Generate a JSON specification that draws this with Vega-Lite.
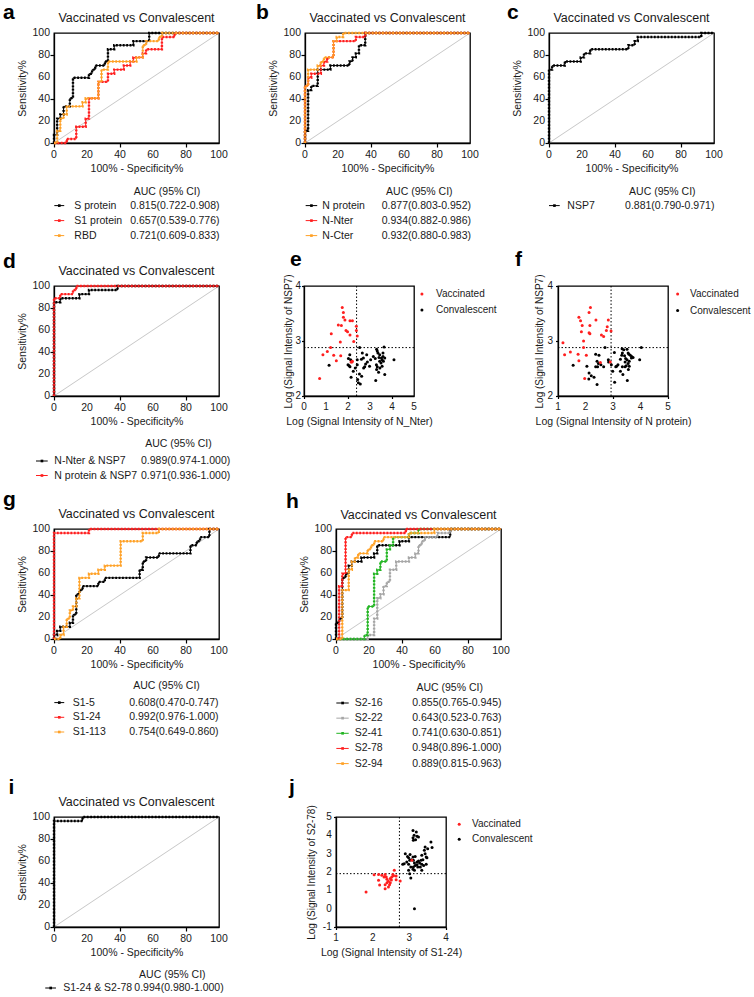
{
"$schema":"https://vega.github.io/schema/vega-lite/v6.json",
"padding":{"left":2,"top":1,"right":0,"bottom":0},
"config":{
 "font":"Liberation Sans",
 "view":{"stroke":"#000","strokeWidth":1.3},
 "axis":{"grid":false,"domainColor":"#000","domainWidth":1.3,"tickColor":"#000","tickWidth":1.2,"tickSize":4,"labelFontSize":10.5,"labelColor":"#1a1a1a","titleFontSize":10.5,"titleFontWeight":"normal","titleColor":"#1a1a1a"},
 "text":{"fontSize":10.5,"color":"#1a1a1a"}
},
"datasets":{
"tk":[
{"a":"r","v":0},{"a":"r","v":20},{"a":"r","v":40},{"a":"r","v":60},{"a":"r","v":80},{"a":"r","v":100},
{"a":"ex","v":0},{"a":"ex","v":1},{"a":"ex","v":2},{"a":"ex","v":3},{"a":"ex","v":4},{"a":"ex","v":5},
{"a":"sy","v":2},{"a":"sy","v":3},{"a":"sy","v":4},
{"a":"fx","v":1},{"a":"fx","v":2},{"a":"fx","v":3},{"a":"fx","v":4},{"a":"fx","v":5},
{"a":"jx","v":1},{"a":"jx","v":2},{"a":"jx","v":3},{"a":"jx","v":4},
{"a":"jy","v":-1},{"a":"jy","v":0},{"a":"jy","v":1},{"a":"jy","v":2},{"a":"jy","v":3},{"a":"jy","v":4},{"a":"jy","v":5}
],
"roc":[
{"c":"a1","x":0,"y":0},{"c":"a1","x":0,"y":7.4},{"c":"a1","x":1.9,"y":7.4},{"c":"a1","x":1.9,"y":22.2},{"c":"a1","x":3.8,"y":22.2},{"c":"a1","x":3.8,"y":25.9},{"c":"a1","x":5.8,"y":25.9},{"c":"a1","x":5.8,"y":33.3},{"c":"a1","x":9.6,"y":33.3},{"c":"a1","x":9.6,"y":40.7},{"c":"a1","x":11.5,"y":40.7},{"c":"a1","x":11.5,"y":59.3},{"c":"a1","x":21.2,"y":59.3},{"c":"a1","x":21.2,"y":63},{"c":"a1","x":23.1,"y":63},{"c":"a1","x":23.1,"y":66.7},{"c":"a1","x":25,"y":66.7},{"c":"a1","x":25,"y":70.4},{"c":"a1","x":30.8,"y":70.4},{"c":"a1","x":30.8,"y":74.1},{"c":"a1","x":32.7,"y":74.1},{"c":"a1","x":32.7,"y":85.2},{"c":"a1","x":36.5,"y":85.2},{"c":"a1","x":36.5,"y":88.9},{"c":"a1","x":48.1,"y":88.9},{"c":"a1","x":48.1,"y":92.6},{"c":"a1","x":57.7,"y":92.6},{"c":"a1","x":57.7,"y":100},{"c":"a1","x":100,"y":100},
{"c":"a2","x":0,"y":0},{"c":"a2","x":7.7,"y":0},{"c":"a2","x":7.7,"y":3.7},{"c":"a2","x":13.5,"y":3.7},{"c":"a2","x":13.5,"y":14.8},{"c":"a2","x":19.2,"y":14.8},{"c":"a2","x":19.2,"y":22.2},{"c":"a2","x":21.2,"y":22.2},{"c":"a2","x":21.2,"y":40.7},{"c":"a2","x":26.9,"y":40.7},{"c":"a2","x":26.9,"y":55.6},{"c":"a2","x":32.7,"y":55.6},{"c":"a2","x":32.7,"y":63},{"c":"a2","x":36.5,"y":63},{"c":"a2","x":36.5,"y":66.7},{"c":"a2","x":42.3,"y":66.7},{"c":"a2","x":42.3,"y":70.4},{"c":"a2","x":46.2,"y":70.4},{"c":"a2","x":46.2,"y":74.1},{"c":"a2","x":48.1,"y":74.1},{"c":"a2","x":48.1,"y":77.8},{"c":"a2","x":53.8,"y":77.8},{"c":"a2","x":53.8,"y":81.5},{"c":"a2","x":55.8,"y":81.5},{"c":"a2","x":55.8,"y":85.2},{"c":"a2","x":65.4,"y":85.2},{"c":"a2","x":65.4,"y":96.3},{"c":"a2","x":73.1,"y":96.3},{"c":"a2","x":73.1,"y":100},{"c":"a2","x":100,"y":100},
{"c":"a3","x":0,"y":0},{"c":"a3","x":1.9,"y":0},{"c":"a3","x":1.9,"y":11.1},{"c":"a3","x":3.8,"y":11.1},{"c":"a3","x":3.8,"y":22.2},{"c":"a3","x":5.8,"y":22.2},{"c":"a3","x":5.8,"y":25.9},{"c":"a3","x":7.7,"y":25.9},{"c":"a3","x":7.7,"y":33.3},{"c":"a3","x":17.3,"y":33.3},{"c":"a3","x":17.3,"y":37},{"c":"a3","x":19.2,"y":37},{"c":"a3","x":19.2,"y":40.7},{"c":"a3","x":26.9,"y":40.7},{"c":"a3","x":26.9,"y":55.6},{"c":"a3","x":28.8,"y":55.6},{"c":"a3","x":28.8,"y":66.7},{"c":"a3","x":32.7,"y":66.7},{"c":"a3","x":32.7,"y":74.1},{"c":"a3","x":50,"y":74.1},{"c":"a3","x":50,"y":77.8},{"c":"a3","x":53.8,"y":77.8},{"c":"a3","x":53.8,"y":88.9},{"c":"a3","x":55.8,"y":88.9},{"c":"a3","x":55.8,"y":92.6},{"c":"a3","x":63.5,"y":92.6},{"c":"a3","x":63.5,"y":96.3},{"c":"a3","x":65.4,"y":96.3},{"c":"a3","x":65.4,"y":100},{"c":"a3","x":100,"y":100},
{"c":"b1","x":0,"y":0},{"c":"b1","x":0,"y":11.1},{"c":"b1","x":1.9,"y":11.1},{"c":"b1","x":1.9,"y":48.1},{"c":"b1","x":3.8,"y":48.1},{"c":"b1","x":3.8,"y":51.9},{"c":"b1","x":7.7,"y":51.9},{"c":"b1","x":7.7,"y":66.7},{"c":"b1","x":15.4,"y":66.7},{"c":"b1","x":15.4,"y":70.4},{"c":"b1","x":26.9,"y":70.4},{"c":"b1","x":26.9,"y":74.1},{"c":"b1","x":28.8,"y":74.1},{"c":"b1","x":28.8,"y":77.8},{"c":"b1","x":30.8,"y":77.8},{"c":"b1","x":30.8,"y":81.5},{"c":"b1","x":32.7,"y":81.5},{"c":"b1","x":32.7,"y":88.9},{"c":"b1","x":36.5,"y":88.9},{"c":"b1","x":36.5,"y":100},{"c":"b1","x":100,"y":100},
{"c":"b2","x":0,"y":0},{"c":"b2","x":0,"y":51.9},{"c":"b2","x":1.9,"y":51.9},{"c":"b2","x":1.9,"y":59.3},{"c":"b2","x":3.8,"y":59.3},{"c":"b2","x":3.8,"y":63},{"c":"b2","x":9.6,"y":63},{"c":"b2","x":9.6,"y":70.4},{"c":"b2","x":11.5,"y":70.4},{"c":"b2","x":11.5,"y":74.1},{"c":"b2","x":13.5,"y":74.1},{"c":"b2","x":13.5,"y":77.8},{"c":"b2","x":17.3,"y":77.8},{"c":"b2","x":17.3,"y":92.6},{"c":"b2","x":30.8,"y":92.6},{"c":"b2","x":30.8,"y":96.3},{"c":"b2","x":36.5,"y":96.3},{"c":"b2","x":36.5,"y":100},{"c":"b2","x":100,"y":100},
{"c":"b3","x":0,"y":0},{"c":"b3","x":0,"y":51.9},{"c":"b3","x":1.9,"y":51.9},{"c":"b3","x":1.9,"y":66.7},{"c":"b3","x":7.7,"y":66.7},{"c":"b3","x":7.7,"y":70.4},{"c":"b3","x":9.6,"y":70.4},{"c":"b3","x":9.6,"y":74.1},{"c":"b3","x":11.5,"y":74.1},{"c":"b3","x":11.5,"y":77.8},{"c":"b3","x":17.3,"y":77.8},{"c":"b3","x":17.3,"y":92.6},{"c":"b3","x":19.2,"y":92.6},{"c":"b3","x":19.2,"y":96.3},{"c":"b3","x":23.1,"y":96.3},{"c":"b3","x":23.1,"y":100},{"c":"b3","x":100,"y":100},
{"c":"c1","x":0,"y":0},{"c":"c1","x":0,"y":66.7},{"c":"c1","x":1.9,"y":66.7},{"c":"c1","x":1.9,"y":70.4},{"c":"c1","x":9.6,"y":70.4},{"c":"c1","x":9.6,"y":74.1},{"c":"c1","x":19.2,"y":74.1},{"c":"c1","x":19.2,"y":77.8},{"c":"c1","x":21.2,"y":77.8},{"c":"c1","x":21.2,"y":81.5},{"c":"c1","x":25,"y":81.5},{"c":"c1","x":25,"y":85.2},{"c":"c1","x":48.1,"y":85.2},{"c":"c1","x":48.1,"y":88.9},{"c":"c1","x":51.9,"y":88.9},{"c":"c1","x":51.9,"y":92.6},{"c":"c1","x":53.8,"y":92.6},{"c":"c1","x":53.8,"y":96.3},{"c":"c1","x":92.3,"y":96.3},{"c":"c1","x":92.3,"y":100},{"c":"c1","x":100,"y":100},
{"c":"d1","x":0,"y":0},{"c":"d1","x":0,"y":85.2},{"c":"d1","x":3.8,"y":85.2},{"c":"d1","x":3.8,"y":88.9},{"c":"d1","x":15.4,"y":88.9},{"c":"d1","x":15.4,"y":92.6},{"c":"d1","x":21.2,"y":92.6},{"c":"d1","x":21.2,"y":96.3},{"c":"d1","x":38.5,"y":96.3},{"c":"d1","x":38.5,"y":100},{"c":"d1","x":100,"y":100},
{"c":"d2","x":0,"y":0},{"c":"d2","x":0,"y":88.9},{"c":"d2","x":3.8,"y":88.9},{"c":"d2","x":3.8,"y":92.6},{"c":"d2","x":11.5,"y":92.6},{"c":"d2","x":11.5,"y":96.3},{"c":"d2","x":13.5,"y":96.3},{"c":"d2","x":13.5,"y":100},{"c":"d2","x":100,"y":100},
{"c":"g1","x":0,"y":0},{"c":"g1","x":0,"y":3.7},{"c":"g1","x":1.9,"y":3.7},{"c":"g1","x":1.9,"y":7.4},{"c":"g1","x":3.8,"y":7.4},{"c":"g1","x":3.8,"y":11.1},{"c":"g1","x":9.6,"y":11.1},{"c":"g1","x":9.6,"y":14.8},{"c":"g1","x":11.5,"y":14.8},{"c":"g1","x":11.5,"y":22.2},{"c":"g1","x":13.5,"y":22.2},{"c":"g1","x":13.5,"y":40.7},{"c":"g1","x":15.4,"y":40.7},{"c":"g1","x":15.4,"y":44.4},{"c":"g1","x":17.3,"y":44.4},{"c":"g1","x":17.3,"y":48.1},{"c":"g1","x":26.9,"y":48.1},{"c":"g1","x":26.9,"y":51.9},{"c":"g1","x":30.8,"y":51.9},{"c":"g1","x":30.8,"y":55.6},{"c":"g1","x":51.9,"y":55.6},{"c":"g1","x":51.9,"y":63},{"c":"g1","x":53.8,"y":63},{"c":"g1","x":53.8,"y":70.4},{"c":"g1","x":55.8,"y":70.4},{"c":"g1","x":55.8,"y":74.1},{"c":"g1","x":63.5,"y":74.1},{"c":"g1","x":63.5,"y":77.8},{"c":"g1","x":82.7,"y":77.8},{"c":"g1","x":82.7,"y":85.2},{"c":"g1","x":86.5,"y":85.2},{"c":"g1","x":86.5,"y":88.9},{"c":"g1","x":88.5,"y":88.9},{"c":"g1","x":88.5,"y":92.6},{"c":"g1","x":94.2,"y":92.6},{"c":"g1","x":94.2,"y":100},{"c":"g1","x":100,"y":100},
{"c":"g2","x":0,"y":0},{"c":"g2","x":0,"y":96.3},{"c":"g2","x":21.2,"y":96.3},{"c":"g2","x":21.2,"y":100},{"c":"g2","x":100,"y":100},
{"c":"g3","x":0,"y":0},{"c":"g3","x":3.8,"y":0},{"c":"g3","x":3.8,"y":3.7},{"c":"g3","x":5.8,"y":3.7},{"c":"g3","x":5.8,"y":11.1},{"c":"g3","x":7.7,"y":11.1},{"c":"g3","x":7.7,"y":18.5},{"c":"g3","x":9.6,"y":18.5},{"c":"g3","x":9.6,"y":25.9},{"c":"g3","x":11.5,"y":25.9},{"c":"g3","x":11.5,"y":29.6},{"c":"g3","x":13.5,"y":29.6},{"c":"g3","x":13.5,"y":37},{"c":"g3","x":15.4,"y":37},{"c":"g3","x":15.4,"y":55.6},{"c":"g3","x":21.2,"y":55.6},{"c":"g3","x":21.2,"y":59.3},{"c":"g3","x":26.9,"y":59.3},{"c":"g3","x":26.9,"y":63},{"c":"g3","x":30.8,"y":63},{"c":"g3","x":30.8,"y":66.7},{"c":"g3","x":40.4,"y":66.7},{"c":"g3","x":40.4,"y":88.9},{"c":"g3","x":53.8,"y":88.9},{"c":"g3","x":53.8,"y":96.3},{"c":"g3","x":63.5,"y":96.3},{"c":"g3","x":63.5,"y":100},{"c":"g3","x":100,"y":100},
{"c":"h1","x":0,"y":0},{"c":"h1","x":0,"y":14.8},{"c":"h1","x":1.9,"y":14.8},{"c":"h1","x":1.9,"y":18.5},{"c":"h1","x":3.8,"y":18.5},{"c":"h1","x":3.8,"y":55.6},{"c":"h1","x":5.8,"y":55.6},{"c":"h1","x":5.8,"y":59.3},{"c":"h1","x":7.7,"y":59.3},{"c":"h1","x":7.7,"y":66.7},{"c":"h1","x":9.6,"y":66.7},{"c":"h1","x":9.6,"y":70.4},{"c":"h1","x":15.4,"y":70.4},{"c":"h1","x":15.4,"y":74.1},{"c":"h1","x":23.1,"y":74.1},{"c":"h1","x":23.1,"y":77.8},{"c":"h1","x":25,"y":77.8},{"c":"h1","x":25,"y":85.2},{"c":"h1","x":38.5,"y":85.2},{"c":"h1","x":38.5,"y":88.9},{"c":"h1","x":44.2,"y":88.9},{"c":"h1","x":44.2,"y":92.6},{"c":"h1","x":69.2,"y":92.6},{"c":"h1","x":69.2,"y":100},{"c":"h1","x":100,"y":100},
{"c":"h2","x":0,"y":0},{"c":"h2","x":19.2,"y":0},{"c":"h2","x":19.2,"y":3.7},{"c":"h2","x":23.1,"y":3.7},{"c":"h2","x":23.1,"y":18.5},{"c":"h2","x":25,"y":18.5},{"c":"h2","x":25,"y":37},{"c":"h2","x":26.9,"y":37},{"c":"h2","x":26.9,"y":40.7},{"c":"h2","x":28.8,"y":40.7},{"c":"h2","x":28.8,"y":48.1},{"c":"h2","x":30.8,"y":48.1},{"c":"h2","x":30.8,"y":51.9},{"c":"h2","x":32.7,"y":51.9},{"c":"h2","x":32.7,"y":63},{"c":"h2","x":36.5,"y":63},{"c":"h2","x":36.5,"y":70.4},{"c":"h2","x":44.2,"y":70.4},{"c":"h2","x":44.2,"y":74.1},{"c":"h2","x":48.1,"y":74.1},{"c":"h2","x":48.1,"y":77.8},{"c":"h2","x":50,"y":77.8},{"c":"h2","x":50,"y":85.2},{"c":"h2","x":51.9,"y":85.2},{"c":"h2","x":51.9,"y":88.9},{"c":"h2","x":53.8,"y":88.9},{"c":"h2","x":53.8,"y":92.6},{"c":"h2","x":61.5,"y":92.6},{"c":"h2","x":61.5,"y":96.3},{"c":"h2","x":69.2,"y":96.3},{"c":"h2","x":69.2,"y":100},{"c":"h2","x":100,"y":100},
{"c":"h3","x":0,"y":0},{"c":"h3","x":17.3,"y":0},{"c":"h3","x":17.3,"y":3.7},{"c":"h3","x":19.2,"y":3.7},{"c":"h3","x":19.2,"y":29.6},{"c":"h3","x":23.1,"y":29.6},{"c":"h3","x":23.1,"y":59.3},{"c":"h3","x":25,"y":59.3},{"c":"h3","x":25,"y":63},{"c":"h3","x":26.9,"y":63},{"c":"h3","x":26.9,"y":70.4},{"c":"h3","x":30.8,"y":70.4},{"c":"h3","x":30.8,"y":81.5},{"c":"h3","x":32.7,"y":81.5},{"c":"h3","x":32.7,"y":85.2},{"c":"h3","x":34.6,"y":85.2},{"c":"h3","x":34.6,"y":92.6},{"c":"h3","x":44.2,"y":92.6},{"c":"h3","x":44.2,"y":96.3},{"c":"h3","x":50,"y":96.3},{"c":"h3","x":50,"y":100},{"c":"h3","x":100,"y":100},
{"c":"h4","x":0,"y":0},{"c":"h4","x":1.9,"y":0},{"c":"h4","x":1.9,"y":48.1},{"c":"h4","x":3.8,"y":48.1},{"c":"h4","x":3.8,"y":59.3},{"c":"h4","x":5.8,"y":59.3},{"c":"h4","x":5.8,"y":92.6},{"c":"h4","x":9.6,"y":92.6},{"c":"h4","x":9.6,"y":96.3},{"c":"h4","x":42.3,"y":96.3},{"c":"h4","x":42.3,"y":100},{"c":"h4","x":100,"y":100},
{"c":"h5","x":0,"y":0},{"c":"h5","x":3.8,"y":0},{"c":"h5","x":3.8,"y":44.4},{"c":"h5","x":7.7,"y":44.4},{"c":"h5","x":7.7,"y":63},{"c":"h5","x":9.6,"y":63},{"c":"h5","x":9.6,"y":70.4},{"c":"h5","x":11.5,"y":70.4},{"c":"h5","x":11.5,"y":74.1},{"c":"h5","x":13.5,"y":74.1},{"c":"h5","x":13.5,"y":77.8},{"c":"h5","x":19.2,"y":77.8},{"c":"h5","x":19.2,"y":81.5},{"c":"h5","x":21.2,"y":81.5},{"c":"h5","x":21.2,"y":85.2},{"c":"h5","x":23.1,"y":85.2},{"c":"h5","x":23.1,"y":88.9},{"c":"h5","x":28.8,"y":88.9},{"c":"h5","x":28.8,"y":92.6},{"c":"h5","x":44.2,"y":92.6},{"c":"h5","x":44.2,"y":96.3},{"c":"h5","x":59.6,"y":96.3},{"c":"h5","x":59.6,"y":100},{"c":"h5","x":100,"y":100},
{"c":"i1","x":0,"y":0},{"c":"i1","x":0,"y":96.3},{"c":"i1","x":17.3,"y":96.3},{"c":"i1","x":17.3,"y":100},{"c":"i1","x":100,"y":100}
],
"sc":[
{"p":"e","g":"C","x":1.14,"y":2.56},{"p":"e","g":"C","x":2.08,"y":2.75},{"p":"e","g":"C","x":2.02,"y":2.68},{"p":"e","g":"C","x":2.12,"y":2.66},{"p":"e","g":"C","x":2.0,"y":2.57},{"p":"e","g":"C","x":2.05,"y":2.55},{"p":"e","g":"C","x":2.09,"y":2.53},{"p":"e","g":"C","x":2.14,"y":2.34},{"p":"e","g":"C","x":2.42,"y":2.66},{"p":"e","g":"C","x":2.42,"y":2.57},{"p":"e","g":"C","x":2.44,"y":2.30},{"p":"e","g":"C","x":2.47,"y":2.24},{"p":"e","g":"C","x":2.56,"y":2.22},{"p":"e","g":"C","x":2.53,"y":2.88},{"p":"e","g":"C","x":2.61,"y":2.67},{"p":"e","g":"C","x":2.65,"y":2.78},{"p":"e","g":"C","x":2.70,"y":2.69},{"p":"e","g":"C","x":2.71,"y":2.51},{"p":"e","g":"C","x":2.85,"y":2.75},{"p":"e","g":"C","x":2.80,"y":2.58},{"p":"e","g":"C","x":2.76,"y":2.53},{"p":"e","g":"C","x":2.52,"y":2.40},{"p":"e","g":"C","x":2.62,"y":2.36},{"p":"e","g":"C","x":3.03,"y":2.66},{"p":"e","g":"C","x":2.98,"y":2.54},{"p":"e","g":"C","x":3.26,"y":2.28},{"p":"e","g":"C","x":3.30,"y":2.85},{"p":"e","g":"C","x":3.33,"y":2.82},{"p":"e","g":"C","x":3.36,"y":2.78},{"p":"e","g":"C","x":3.44,"y":2.75},{"p":"e","g":"C","x":3.41,"y":2.70},{"p":"e","g":"C","x":3.52,"y":2.69},{"p":"e","g":"C","x":3.55,"y":2.66},{"p":"e","g":"C","x":3.59,"y":2.72},{"p":"e","g":"C","x":3.64,"y":2.89},{"p":"e","g":"C","x":3.67,"y":2.69},{"p":"e","g":"C","x":3.61,"y":2.63},{"p":"e","g":"C","x":3.50,"y":2.60},{"p":"e","g":"C","x":3.29,"y":2.57},{"p":"e","g":"C","x":3.33,"y":2.53},{"p":"e","g":"C","x":3.55,"y":2.54},{"p":"e","g":"C","x":3.39,"y":2.43},{"p":"e","g":"C","x":3.67,"y":2.39},{"p":"e","g":"C","x":4.09,"y":2.66},{"p":"e","g":"C","x":3.44,"y":2.63},{"p":"e","g":"C","x":3.24,"y":2.68},{"p":"e","g":"C","x":3.15,"y":2.72},{"p":"e","g":"C","x":2.88,"y":2.62},{"p":"e","g":"C","x":2.33,"y":2.51},{"p":"e","g":"C","x":2.24,"y":2.45},{"p":"e","g":"C","x":3.59,"y":2.78},{"p":"e","g":"C","x":3.30,"y":2.48},{"p":"e","g":"C","x":3.45,"y":2.51},
{"p":"e","g":"V","x":1.74,"y":3.61},{"p":"e","g":"V","x":1.79,"y":3.52},{"p":"e","g":"V","x":1.79,"y":3.43},{"p":"e","g":"V","x":1.86,"y":3.38},{"p":"e","g":"V","x":1.56,"y":3.29},{"p":"e","g":"V","x":1.70,"y":3.28},{"p":"e","g":"V","x":2.09,"y":3.37},{"p":"e","g":"V","x":2.20,"y":3.37},{"p":"e","g":"V","x":2.38,"y":3.27},{"p":"e","g":"V","x":2.38,"y":3.19},{"p":"e","g":"V","x":1.91,"y":3.19},{"p":"e","g":"V","x":1.98,"y":3.17},{"p":"e","g":"V","x":2.09,"y":3.11},{"p":"e","g":"V","x":1.24,"y":3.13},{"p":"e","g":"V","x":2.42,"y":3.09},{"p":"e","g":"V","x":1.65,"y":2.98},{"p":"e","g":"V","x":2.26,"y":2.99},{"p":"e","g":"V","x":0.86,"y":2.75},{"p":"e","g":"V","x":1.06,"y":2.81},{"p":"e","g":"V","x":1.21,"y":2.88},{"p":"e","g":"V","x":1.35,"y":2.74},{"p":"e","g":"V","x":1.47,"y":2.64},{"p":"e","g":"V","x":1.67,"y":2.73},{"p":"e","g":"V","x":0.71,"y":2.32},{"p":"e","g":"V","x":2.14,"y":2.62},{"p":"e","g":"V","x":2.18,"y":2.62},{"p":"e","g":"V","x":2.20,"y":2.63},
{"p":"f","g":"C","x":1.55,"y":2.56},{"p":"f","g":"C","x":2.05,"y":2.54},{"p":"f","g":"C","x":2.13,"y":2.42},{"p":"f","g":"C","x":2.12,"y":2.31},{"p":"f","g":"C","x":2.21,"y":2.37},{"p":"f","g":"C","x":2.31,"y":2.34},{"p":"f","g":"C","x":2.42,"y":2.21},{"p":"f","g":"C","x":2.37,"y":2.76},{"p":"f","g":"C","x":2.49,"y":2.74},{"p":"f","g":"C","x":2.42,"y":2.63},{"p":"f","g":"C","x":2.47,"y":2.59},{"p":"f","g":"C","x":2.37,"y":2.53},{"p":"f","g":"C","x":2.44,"y":2.53},{"p":"f","g":"C","x":2.56,"y":2.57},{"p":"f","g":"C","x":2.66,"y":2.53},{"p":"f","g":"C","x":2.71,"y":2.88},{"p":"f","g":"C","x":2.83,"y":2.66},{"p":"f","g":"C","x":2.84,"y":2.62},{"p":"f","g":"C","x":2.94,"y":2.57},{"p":"f","g":"C","x":3.05,"y":2.79},{"p":"f","g":"C","x":3.06,"y":2.25},{"p":"f","g":"C","x":3.10,"y":2.53},{"p":"f","g":"C","x":3.18,"y":2.57},{"p":"f","g":"C","x":3.27,"y":2.67},{"p":"f","g":"C","x":3.33,"y":2.86},{"p":"f","g":"C","x":3.39,"y":2.84},{"p":"f","g":"C","x":3.34,"y":2.78},{"p":"f","g":"C","x":3.42,"y":2.73},{"p":"f","g":"C","x":3.51,"y":2.85},{"p":"f","g":"C","x":3.55,"y":2.78},{"p":"f","g":"C","x":3.46,"y":2.68},{"p":"f","g":"C","x":3.58,"y":2.76},{"p":"f","g":"C","x":3.63,"y":2.74},{"p":"f","g":"C","x":3.68,"y":2.72},{"p":"f","g":"C","x":3.51,"y":2.66},{"p":"f","g":"C","x":3.59,"y":2.63},{"p":"f","g":"C","x":3.44,"y":2.62},{"p":"f","g":"C","x":3.55,"y":2.59},{"p":"f","g":"C","x":3.48,"y":2.55},{"p":"f","g":"C","x":3.59,"y":2.54},{"p":"f","g":"C","x":3.34,"y":2.53},{"p":"f","g":"C","x":3.27,"y":2.45},{"p":"f","g":"C","x":3.36,"y":2.39},{"p":"f","g":"C","x":3.52,"y":2.28},{"p":"f","g":"C","x":3.73,"y":2.70},{"p":"f","g":"C","x":3.97,"y":2.66},{"p":"f","g":"C","x":4.03,"y":2.88},{"p":"f","g":"C","x":3.44,"y":2.53},{"p":"f","g":"C","x":3.13,"y":2.54},{"p":"f","g":"C","x":2.99,"y":2.45},{"p":"f","g":"C","x":3.67,"y":2.69},{"p":"f","g":"C","x":3.56,"y":2.48},{"p":"f","g":"C","x":3.32,"y":2.74},
{"p":"f","g":"V","x":2.18,"y":3.61},{"p":"f","g":"V","x":2.13,"y":3.52},{"p":"f","g":"V","x":1.76,"y":3.43},{"p":"f","g":"V","x":1.82,"y":3.37},{"p":"f","g":"V","x":1.88,"y":3.28},{"p":"f","g":"V","x":2.16,"y":3.28},{"p":"f","g":"V","x":2.38,"y":3.38},{"p":"f","g":"V","x":2.83,"y":3.38},{"p":"f","g":"V","x":2.79,"y":3.26},{"p":"f","g":"V","x":2.76,"y":3.19},{"p":"f","g":"V","x":2.93,"y":3.18},{"p":"f","g":"V","x":1.85,"y":3.17},{"p":"f","g":"V","x":2.13,"y":3.15},{"p":"f","g":"V","x":2.16,"y":3.13},{"p":"f","g":"V","x":2.58,"y":3.11},{"p":"f","g":"V","x":2.66,"y":3.08},{"p":"f","g":"V","x":1.93,"y":3.00},{"p":"f","g":"V","x":1.18,"y":2.97},{"p":"f","g":"V","x":1.93,"y":2.88},{"p":"f","g":"V","x":1.45,"y":2.80},{"p":"f","g":"V","x":1.24,"y":2.75},{"p":"f","g":"V","x":1.73,"y":2.76},{"p":"f","g":"V","x":2.03,"y":2.74},{"p":"f","g":"V","x":1.76,"y":2.64},{"p":"f","g":"V","x":2.54,"y":2.61},{"p":"f","g":"V","x":2.90,"y":2.62},{"p":"f","g":"V","x":1.97,"y":2.32},
{"p":"j","g":"C","x":2.86,"y":2.45},{"p":"j","g":"C","x":2.82,"y":2.42},{"p":"j","g":"C","x":2.89,"y":3.0},{"p":"j","g":"C","x":2.95,"y":2.85},{"p":"j","g":"C","x":2.98,"y":2.42},{"p":"j","g":"C","x":3.01,"y":2.64},{"p":"j","g":"C","x":3.02,"y":2.96},{"p":"j","g":"C","x":3.04,"y":2.27},{"p":"j","g":"C","x":2.98,"y":2.09},{"p":"j","g":"C","x":3.01,"y":1.91},{"p":"j","g":"C","x":3.04,"y":1.67},{"p":"j","g":"C","x":3.10,"y":4.27},{"p":"j","g":"C","x":3.13,"y":4.0},{"p":"j","g":"C","x":3.10,"y":3.87},{"p":"j","g":"C","x":3.11,"y":3.73},{"p":"j","g":"C","x":3.19,"y":4.18},{"p":"j","g":"C","x":3.17,"y":3.76},{"p":"j","g":"C","x":3.21,"y":3.95},{"p":"j","g":"C","x":3.25,"y":3.91},{"p":"j","g":"C","x":3.10,"y":2.82},{"p":"j","g":"C","x":3.16,"y":2.85},{"p":"j","g":"C","x":3.11,"y":2.64},{"p":"j","g":"C","x":3.14,"y":2.49},{"p":"j","g":"C","x":3.16,"y":2.36},{"p":"j","g":"C","x":3.11,"y":2.27},{"p":"j","g":"C","x":3.10,"y":2.15},{"p":"j","g":"C","x":3.14,"y":2.09},{"p":"j","g":"C","x":3.21,"y":2.55},{"p":"j","g":"C","x":3.21,"y":2.40},{"p":"j","g":"C","x":3.25,"y":2.60},{"p":"j","g":"C","x":3.28,"y":2.49},{"p":"j","g":"C","x":3.32,"y":2.64},{"p":"j","g":"C","x":3.34,"y":2.91},{"p":"j","g":"C","x":3.34,"y":2.42},{"p":"j","g":"C","x":3.34,"y":2.09},{"p":"j","g":"C","x":3.37,"y":2.67},{"p":"j","g":"C","x":3.39,"y":2.36},{"p":"j","g":"C","x":3.41,"y":3.18},{"p":"j","g":"C","x":3.43,"y":3.36},{"p":"j","g":"C","x":3.43,"y":3.0},{"p":"j","g":"C","x":3.46,"y":2.82},{"p":"j","g":"C","x":3.46,"y":2.42},{"p":"j","g":"C","x":3.50,"y":3.27},{"p":"j","g":"C","x":3.48,"y":2.78},{"p":"j","g":"C","x":3.59,"y":3.64},{"p":"j","g":"C","x":3.62,"y":3.33},{"p":"j","g":"C","x":3.14,"y":0.0},{"p":"j","g":"C","x":2.98,"y":2.78},{"p":"j","g":"C","x":2.93,"y":2.55},{"p":"j","g":"C","x":3.23,"y":2.27},{"p":"j","g":"C","x":3.30,"y":2.27},{"p":"j","g":"C","x":3.05,"y":2.67},
{"p":"j","g":"V","x":1.82,"y":0.91},{"p":"j","g":"V","x":2.04,"y":1.85},{"p":"j","g":"V","x":2.16,"y":1.87},{"p":"j","g":"V","x":2.19,"y":1.29},{"p":"j","g":"V","x":2.25,"y":1.82},{"p":"j","g":"V","x":2.31,"y":1.73},{"p":"j","g":"V","x":2.34,"y":1.87},{"p":"j","g":"V","x":2.34,"y":1.31},{"p":"j","g":"V","x":2.37,"y":1.73},{"p":"j","g":"V","x":2.39,"y":1.60},{"p":"j","g":"V","x":2.34,"y":1.09},{"p":"j","g":"V","x":2.43,"y":1.18},{"p":"j","g":"V","x":2.39,"y":1.42},{"p":"j","g":"V","x":2.43,"y":1.49},{"p":"j","g":"V","x":2.48,"y":1.64},{"p":"j","g":"V","x":2.48,"y":1.42},{"p":"j","g":"V","x":2.46,"y":1.31},{"p":"j","g":"V","x":2.52,"y":1.73},{"p":"j","g":"V","x":2.55,"y":1.87},{"p":"j","g":"V","x":2.59,"y":2.09},{"p":"j","g":"V","x":2.57,"y":1.80},{"p":"j","g":"V","x":2.64,"y":1.78},{"p":"j","g":"V","x":2.64,"y":1.58},{"p":"j","g":"V","x":2.75,"y":1.51},{"p":"j","g":"V","x":2.51,"y":1.56},{"p":"j","g":"V","x":2.16,"y":1.55},{"p":"j","g":"V","x":3.07,"y":2.64}
],
"leg":[
{"p":"a","c":"a1","s":"S protein","auc":"0.815(0.722-0.908)","i":0},
{"p":"a","c":"a2","s":"S1 protein","auc":"0.657(0.539-0.776)","i":1},
{"p":"a","c":"a3","s":"RBD","auc":"0.721(0.609-0.833)","i":2},
{"p":"b","c":"b1","s":"N protein","auc":"0.877(0.803-0.952)","i":0},
{"p":"b","c":"b2","s":"N-Nter","auc":"0.934(0.882-0.986)","i":1},
{"p":"b","c":"b3","s":"N-Cter","auc":"0.932(0.880-0.983)","i":2},
{"p":"c","c":"c1","s":"NSP7","auc":"0.881(0.790-0.971)","i":0},
{"p":"d","c":"d1","s":"N-Nter & NSP7","auc":"0.989(0.974-1.000)","i":0},
{"p":"d","c":"d2","s":"N protein & NSP7","auc":"0.971(0.936-1.000)","i":1},
{"p":"g","c":"g1","s":"S1-5","auc":"0.608(0.470-0.747)","i":0},
{"p":"g","c":"g2","s":"S1-24","auc":"0.992(0.976-1.000)","i":1},
{"p":"g","c":"g3","s":"S1-113","auc":"0.754(0.649-0.860)","i":2},
{"p":"h","c":"h1","s":"S2-16","auc":"0.855(0.765-0.945)","i":0},
{"p":"h","c":"h2","s":"S2-22","auc":"0.643(0.523-0.763)","i":1},
{"p":"h","c":"h3","s":"S2-41","auc":"0.741(0.630-0.851)","i":2},
{"p":"h","c":"h4","s":"S2-78","auc":"0.948(0.896-1.000)","i":3},
{"p":"h","c":"h5","s":"S2-94","auc":"0.889(0.815-0.963)","i":4},
{"p":"i","c":"i1","s":"S1-24 & S2-78","auc":"0.994(0.980-1.000)","i":0},
{"p":"e","g":"V","s":"Vaccinated","i":0},{"p":"e","g":"C","s":"Convalescent","i":1},
{"p":"f","g":"V","s":"Vaccinated","i":0},{"p":"f","g":"C","s":"Convalescent","i":1},
{"p":"j","g":"V","s":"Vaccinated","i":0},{"p":"j","g":"C","s":"Convalescent","i":1}
]
},
"resolve":{"scale":{"color":"independent"}},
"spacing":6,
"align":"none",
"vconcat":[
{"hconcat":[
{"width":165,"height":110,"resolve":{"scale":{"y":"independent"}},"layer":[
 {"layer":[
  {"data":{"values":[{}]},"mark":{"type":"rule","color":"#b0b0b0","strokeWidth":0.7},"encoding":{"x":{"datum":0,"type":"quantitative","scale":{"domain":[0,100]},"axis":{"values":[0,20,40,60,80,100],"title":"100% - Specificity%","labels":false,"tickSize":4,"titlePadding":16}},"y":{"datum":0,"type":"quantitative","scale":{"domain":[0,100]},"axis":{"values":[0,20,40,60,80,100],"title":"Sensitivity%","labels":false,"tickSize":4,"titlePadding":22}},"x2":{"datum":100},"y2":{"datum":100}}},
  {"data":{"name":"roc"},"transform":[{"filter":{"field":"c","oneOf":["a1","a2","a3"]}}],"mark":{"type":"line","strokeWidth":1},"encoding":{"x":{"field":"x","type":"quantitative","scale":{"domain":[0,100]},"axis":{"values":[0,20,40,60,80,100],"title":"100% - Specificity%","labels":false,"tickSize":4,"titlePadding":16}},"y":{"field":"y","type":"quantitative","scale":{"domain":[0,100]},"axis":{"values":[0,20,40,60,80,100],"title":"Sensitivity%","labels":false,"tickSize":4,"titlePadding":22}},"order":[{"field":"x","type":"quantitative"},{"field":"y","type":"quantitative"}],"color":{"field":"c","type":"nominal","scale":{"domain":["a1","a2","a3"],"range":["#000000","#ff1f1f","#ffa126"]},"legend":null}}},
  {"data":{"name":"roc"},"transform":[{"filter":{"field":"c","oneOf":["a1","a2","a3"]}}],"mark":{"type":"line","strokeWidth":2.4,"strokeDash":[1.8,1.6],"strokeCap":"butt"},"encoding":{"x":{"field":"x","type":"quantitative","scale":{"domain":[0,100]},"axis":{"values":[0,20,40,60,80,100],"title":"100% - Specificity%","labels":false,"tickSize":4,"titlePadding":16}},"y":{"field":"y","type":"quantitative","scale":{"domain":[0,100]},"axis":{"values":[0,20,40,60,80,100],"title":"Sensitivity%","labels":false,"tickSize":4,"titlePadding":22}},"order":[{"field":"x","type":"quantitative"},{"field":"y","type":"quantitative"}],"color":{"field":"c","type":"nominal","scale":{"domain":["a1","a2","a3"],"range":["#000000","#ff1f1f","#ffa126"]},"legend":null}}},
  {"data":{"name":"tk"},"transform":[{"filter":{"field":"a","equal":"r"}}],"mark":{"type":"text","align":"center","baseline":"alphabetic"},"encoding":{"x":{"field":"v","type":"quantitative","scale":{"domain":[0,100]},"axis":{"values":[0,20,40,60,80,100],"title":"100% - Specificity%","labels":false,"tickSize":4,"titlePadding":16}},"y":{"datum":-13.4,"type":"quantitative","scale":{"domain":[0,100]}},"text":{"field":"v","type":"nominal"}}},
  {"data":{"name":"tk"},"transform":[{"filter":{"field":"a","equal":"r"}}],"mark":{"type":"text","align":"right","baseline":"middle"},"encoding":{"x":{"datum":-2.4,"type":"quantitative","scale":{"domain":[0,100]}},"y":{"field":"v","type":"quantitative","scale":{"domain":[0,100]},"axis":{"values":[0,20,40,60,80,100],"title":"Sensitivity%","labels":false,"tickSize":4,"titlePadding":22}},"text":{"field":"v","type":"nominal"}}},
  {"data":{"values":[{}]},"mark":{"type":"text","fontSize":21,"fontWeight":"bold","align":"left","baseline":"alphabetic","color":"#000"},"encoding":{"x":{"datum":-30.9,"type":"quantitative","scale":{"domain":[0,100]}},"y":{"datum":112.7,"type":"quantitative","scale":{"domain":[0,100]}},"text":{"datum":"a"}}},
  {"data":{"values":[{}]},"mark":{"type":"text","fontSize":12.5,"align":"center","baseline":"alphabetic"},"encoding":{"x":{"datum":50,"type":"quantitative","scale":{"domain":[0,100]}},"y":{"datum":110,"type":"quantitative","scale":{"domain":[0,100]}},"text":{"datum":"Vaccinated vs Convalescent"}}}
 ]},
 {"data":{"name":"leg"},"transform":[{"filter":{"field":"p","equal":"a"}}],"layer":[
  {"mark":{"type":"rule","strokeWidth":1},"encoding":{"x":{"datum":0.2,"type":"quantitative","scale":{"domain":[0,100]}},"x2":{"datum":6.2},"y":{"field":"i","type":"quantitative","scale":{"domain":[0,1],"range":[172.6,187.6]},"axis":null},"color":{"field":"c","type":"nominal","scale":{"domain":["a1","a2","a3"],"range":["#000000","#ff1f1f","#ffa126"]},"legend":null}}},
  {"mark":{"type":"point","shape":"square","size":7,"filled":true,"opacity":1},"encoding":{"x":{"datum":3.2,"type":"quantitative","scale":{"domain":[0,100]}},"y":{"field":"i","type":"quantitative","scale":{"domain":[0,1],"range":[172.6,187.6]},"axis":null},"color":{"field":"c","type":"nominal","scale":{"domain":["a1","a2","a3"],"range":["#000000","#ff1f1f","#ffa126"]},"legend":null}}},
  {"mark":{"type":"text","align":"left","baseline":"middle"},"encoding":{"x":{"datum":12.3,"type":"quantitative","scale":{"domain":[0,100]}},"y":{"field":"i","type":"quantitative","scale":{"domain":[0,1],"range":[172.6,187.6]},"axis":null},"text":{"field":"s"}}},
  {"mark":{"type":"text","align":"left","baseline":"middle"},"encoding":{"x":{"datum":46.2,"type":"quantitative","scale":{"domain":[0,100]}},"y":{"field":"i","type":"quantitative","scale":{"domain":[0,1],"range":[172.6,187.6]},"axis":null},"text":{"field":"auc"}}},
  {"data":{"values":[{}]},"mark":{"type":"text","align":"center","baseline":"middle"},"encoding":{"x":{"datum":68.5,"type":"quantitative","scale":{"domain":[0,100]}},"y":{"datum":-0.887,"type":"quantitative","scale":{"domain":[0,1],"range":[172.6,187.6]},"axis":null},"text":{"datum":"AUC (95% CI)"}}}
 ]}
]},
{"width":165,"height":110,"resolve":{"scale":{"y":"independent"}},"layer":[
 {"layer":[
  {"data":{"values":[{}]},"mark":{"type":"rule","color":"#b0b0b0","strokeWidth":0.7},"encoding":{"x":{"datum":0,"type":"quantitative","scale":{"domain":[0,100]},"axis":{"values":[0,20,40,60,80,100],"title":"100% - Specificity%","labels":false,"tickSize":4,"titlePadding":16}},"y":{"datum":0,"type":"quantitative","scale":{"domain":[0,100]},"axis":{"values":[0,20,40,60,80,100],"title":"Sensitivity%","labels":false,"tickSize":4,"titlePadding":22}},"x2":{"datum":100},"y2":{"datum":100}}},
  {"data":{"name":"roc"},"transform":[{"filter":{"field":"c","oneOf":["b1","b2","b3"]}}],"mark":{"type":"line","strokeWidth":1},"encoding":{"x":{"field":"x","type":"quantitative","scale":{"domain":[0,100]},"axis":{"values":[0,20,40,60,80,100],"title":"100% - Specificity%","labels":false,"tickSize":4,"titlePadding":16}},"y":{"field":"y","type":"quantitative","scale":{"domain":[0,100]},"axis":{"values":[0,20,40,60,80,100],"title":"Sensitivity%","labels":false,"tickSize":4,"titlePadding":22}},"order":[{"field":"x","type":"quantitative"},{"field":"y","type":"quantitative"}],"color":{"field":"c","type":"nominal","scale":{"domain":["b1","b2","b3"],"range":["#000000","#ff1f1f","#ffa126"]},"legend":null}}},
  {"data":{"name":"roc"},"transform":[{"filter":{"field":"c","oneOf":["b1","b2","b3"]}}],"mark":{"type":"line","strokeWidth":2.4,"strokeDash":[1.8,1.6],"strokeCap":"butt"},"encoding":{"x":{"field":"x","type":"quantitative","scale":{"domain":[0,100]},"axis":{"values":[0,20,40,60,80,100],"title":"100% - Specificity%","labels":false,"tickSize":4,"titlePadding":16}},"y":{"field":"y","type":"quantitative","scale":{"domain":[0,100]},"axis":{"values":[0,20,40,60,80,100],"title":"Sensitivity%","labels":false,"tickSize":4,"titlePadding":22}},"order":[{"field":"x","type":"quantitative"},{"field":"y","type":"quantitative"}],"color":{"field":"c","type":"nominal","scale":{"domain":["b1","b2","b3"],"range":["#000000","#ff1f1f","#ffa126"]},"legend":null}}},
  {"data":{"name":"tk"},"transform":[{"filter":{"field":"a","equal":"r"}}],"mark":{"type":"text","align":"center","baseline":"alphabetic"},"encoding":{"x":{"field":"v","type":"quantitative","scale":{"domain":[0,100]},"axis":{"values":[0,20,40,60,80,100],"title":"100% - Specificity%","labels":false,"tickSize":4,"titlePadding":16}},"y":{"datum":-13.4,"type":"quantitative","scale":{"domain":[0,100]}},"text":{"field":"v","type":"nominal"}}},
  {"data":{"name":"tk"},"transform":[{"filter":{"field":"a","equal":"r"}}],"mark":{"type":"text","align":"right","baseline":"middle"},"encoding":{"x":{"datum":-2.4,"type":"quantitative","scale":{"domain":[0,100]}},"y":{"field":"v","type":"quantitative","scale":{"domain":[0,100]},"axis":{"values":[0,20,40,60,80,100],"title":"Sensitivity%","labels":false,"tickSize":4,"titlePadding":22}},"text":{"field":"v","type":"nominal"}}},
  {"data":{"values":[{}]},"mark":{"type":"text","fontSize":21,"fontWeight":"bold","align":"left","baseline":"alphabetic","color":"#000"},"encoding":{"x":{"datum":-29.7,"type":"quantitative","scale":{"domain":[0,100]}},"y":{"datum":112.7,"type":"quantitative","scale":{"domain":[0,100]}},"text":{"datum":"b"}}},
  {"data":{"values":[{}]},"mark":{"type":"text","fontSize":12.5,"align":"center","baseline":"alphabetic"},"encoding":{"x":{"datum":50,"type":"quantitative","scale":{"domain":[0,100]}},"y":{"datum":110,"type":"quantitative","scale":{"domain":[0,100]}},"text":{"datum":"Vaccinated vs Convalescent"}}}
 ]},
 {"data":{"name":"leg"},"transform":[{"filter":{"field":"p","equal":"b"}}],"layer":[
  {"mark":{"type":"rule","strokeWidth":1},"encoding":{"x":{"datum":0.4,"type":"quantitative","scale":{"domain":[0,100]}},"x2":{"datum":7.4},"y":{"field":"i","type":"quantitative","scale":{"domain":[0,1],"range":[172.6,187.6]},"axis":null},"color":{"field":"c","type":"nominal","scale":{"domain":["b1","b2","b3"],"range":["#000000","#ff1f1f","#ffa126"]},"legend":null}}},
  {"mark":{"type":"point","shape":"square","size":7,"filled":true,"opacity":1},"encoding":{"x":{"datum":3.9,"type":"quantitative","scale":{"domain":[0,100]}},"y":{"field":"i","type":"quantitative","scale":{"domain":[0,1],"range":[172.6,187.6]},"axis":null},"color":{"field":"c","type":"nominal","scale":{"domain":["b1","b2","b3"],"range":["#000000","#ff1f1f","#ffa126"]},"legend":null}}},
  {"mark":{"type":"text","align":"left","baseline":"middle"},"encoding":{"x":{"datum":10.5,"type":"quantitative","scale":{"domain":[0,100]}},"y":{"field":"i","type":"quantitative","scale":{"domain":[0,1],"range":[172.6,187.6]},"axis":null},"text":{"field":"s"}}},
  {"mark":{"type":"text","align":"left","baseline":"middle"},"encoding":{"x":{"datum":46.5,"type":"quantitative","scale":{"domain":[0,100]}},"y":{"field":"i","type":"quantitative","scale":{"domain":[0,1],"range":[172.6,187.6]},"axis":null},"text":{"field":"auc"}}},
  {"data":{"values":[{}]},"mark":{"type":"text","align":"center","baseline":"middle"},"encoding":{"x":{"datum":69.3,"type":"quantitative","scale":{"domain":[0,100]}},"y":{"datum":-0.887,"type":"quantitative","scale":{"domain":[0,1],"range":[172.6,187.6]},"axis":null},"text":{"datum":"AUC (95% CI)"}}}
 ]}
]},
{"width":165,"height":110,"resolve":{"scale":{"y":"independent"}},"layer":[
 {"layer":[
  {"data":{"values":[{}]},"mark":{"type":"rule","color":"#b0b0b0","strokeWidth":0.7},"encoding":{"x":{"datum":0,"type":"quantitative","scale":{"domain":[0,100]},"axis":{"values":[0,20,40,60,80,100],"title":"100% - Specificity%","labels":false,"tickSize":4,"titlePadding":16}},"y":{"datum":0,"type":"quantitative","scale":{"domain":[0,100]},"axis":{"values":[0,20,40,60,80,100],"title":"Sensitivity%","labels":false,"tickSize":4,"titlePadding":22}},"x2":{"datum":100},"y2":{"datum":100}}},
  {"data":{"name":"roc"},"transform":[{"filter":{"field":"c","oneOf":["c1"]}}],"mark":{"type":"line","strokeWidth":1},"encoding":{"x":{"field":"x","type":"quantitative","scale":{"domain":[0,100]},"axis":{"values":[0,20,40,60,80,100],"title":"100% - Specificity%","labels":false,"tickSize":4,"titlePadding":16}},"y":{"field":"y","type":"quantitative","scale":{"domain":[0,100]},"axis":{"values":[0,20,40,60,80,100],"title":"Sensitivity%","labels":false,"tickSize":4,"titlePadding":22}},"order":[{"field":"x","type":"quantitative"},{"field":"y","type":"quantitative"}],"color":{"field":"c","type":"nominal","scale":{"domain":["c1"],"range":["#000000"]},"legend":null}}},
  {"data":{"name":"roc"},"transform":[{"filter":{"field":"c","oneOf":["c1"]}}],"mark":{"type":"line","strokeWidth":2.4,"strokeDash":[1.8,1.6],"strokeCap":"butt"},"encoding":{"x":{"field":"x","type":"quantitative","scale":{"domain":[0,100]},"axis":{"values":[0,20,40,60,80,100],"title":"100% - Specificity%","labels":false,"tickSize":4,"titlePadding":16}},"y":{"field":"y","type":"quantitative","scale":{"domain":[0,100]},"axis":{"values":[0,20,40,60,80,100],"title":"Sensitivity%","labels":false,"tickSize":4,"titlePadding":22}},"order":[{"field":"x","type":"quantitative"},{"field":"y","type":"quantitative"}],"color":{"field":"c","type":"nominal","scale":{"domain":["c1"],"range":["#000000"]},"legend":null}}},
  {"data":{"name":"tk"},"transform":[{"filter":{"field":"a","equal":"r"}}],"mark":{"type":"text","align":"center","baseline":"alphabetic"},"encoding":{"x":{"field":"v","type":"quantitative","scale":{"domain":[0,100]},"axis":{"values":[0,20,40,60,80,100],"title":"100% - Specificity%","labels":false,"tickSize":4,"titlePadding":16}},"y":{"datum":-13.4,"type":"quantitative","scale":{"domain":[0,100]}},"text":{"field":"v","type":"nominal"}}},
  {"data":{"name":"tk"},"transform":[{"filter":{"field":"a","equal":"r"}}],"mark":{"type":"text","align":"right","baseline":"middle"},"encoding":{"x":{"datum":-2.4,"type":"quantitative","scale":{"domain":[0,100]}},"y":{"field":"v","type":"quantitative","scale":{"domain":[0,100]},"axis":{"values":[0,20,40,60,80,100],"title":"Sensitivity%","labels":false,"tickSize":4,"titlePadding":22}},"text":{"field":"v","type":"nominal"}}},
  {"data":{"values":[{}]},"mark":{"type":"text","fontSize":21,"fontWeight":"bold","align":"left","baseline":"alphabetic","color":"#000"},"encoding":{"x":{"datum":-25.5,"type":"quantitative","scale":{"domain":[0,100]}},"y":{"datum":112.7,"type":"quantitative","scale":{"domain":[0,100]}},"text":{"datum":"c"}}},
  {"data":{"values":[{}]},"mark":{"type":"text","fontSize":12.5,"align":"center","baseline":"alphabetic"},"encoding":{"x":{"datum":50,"type":"quantitative","scale":{"domain":[0,100]}},"y":{"datum":110,"type":"quantitative","scale":{"domain":[0,100]}},"text":{"datum":"Vaccinated vs Convalescent"}}}
 ]},
 {"data":{"name":"leg"},"transform":[{"filter":{"field":"p","equal":"c"}}],"layer":[
  {"mark":{"type":"rule","strokeWidth":1},"encoding":{"x":{"datum":0,"type":"quantitative","scale":{"domain":[0,100]}},"x2":{"datum":6.5},"y":{"field":"i","type":"quantitative","scale":{"domain":[0,1],"range":[172.6,187.6]},"axis":null},"color":{"field":"c","type":"nominal","scale":{"domain":["c1"],"range":["#000000"]},"legend":null}}},
  {"mark":{"type":"point","shape":"square","size":7,"filled":true,"opacity":1},"encoding":{"x":{"datum":3.3,"type":"quantitative","scale":{"domain":[0,100]}},"y":{"field":"i","type":"quantitative","scale":{"domain":[0,1],"range":[172.6,187.6]},"axis":null},"color":{"field":"c","type":"nominal","scale":{"domain":["c1"],"range":["#000000"]},"legend":null}}},
  {"mark":{"type":"text","align":"left","baseline":"middle"},"encoding":{"x":{"datum":11.1,"type":"quantitative","scale":{"domain":[0,100]}},"y":{"field":"i","type":"quantitative","scale":{"domain":[0,1],"range":[172.6,187.6]},"axis":null},"text":{"field":"s"}}},
  {"mark":{"type":"text","align":"left","baseline":"middle"},"encoding":{"x":{"datum":46.1,"type":"quantitative","scale":{"domain":[0,100]}},"y":{"field":"i","type":"quantitative","scale":{"domain":[0,1],"range":[172.6,187.6]},"axis":null},"text":{"field":"auc"}}},
  {"data":{"values":[{}]},"mark":{"type":"text","align":"center","baseline":"middle"},"encoding":{"x":{"datum":68.7,"type":"quantitative","scale":{"domain":[0,100]}},"y":{"datum":-0.887,"type":"quantitative","scale":{"domain":[0,1],"range":[172.6,187.6]},"axis":null},"text":{"datum":"AUC (95% CI)"}}}
 ]}
]}
],"spacing":26,"resolve":{"scale":{"color":"independent"}}},
{"hconcat":[
{"width":165,"height":110,"resolve":{"scale":{"y":"independent"}},"layer":[
 {"layer":[
  {"data":{"values":[{}]},"mark":{"type":"rule","color":"#b0b0b0","strokeWidth":0.7},"encoding":{"x":{"datum":0,"type":"quantitative","scale":{"domain":[0,100]},"axis":{"values":[0,20,40,60,80,100],"title":"100% - Specificity%","labels":false,"tickSize":4,"titlePadding":16}},"y":{"datum":0,"type":"quantitative","scale":{"domain":[0,100]},"axis":{"values":[0,20,40,60,80,100],"title":"Sensitivity%","labels":false,"tickSize":4,"titlePadding":22}},"x2":{"datum":100},"y2":{"datum":100}}},
  {"data":{"name":"roc"},"transform":[{"filter":{"field":"c","oneOf":["d1","d2"]}}],"mark":{"type":"line","strokeWidth":1},"encoding":{"x":{"field":"x","type":"quantitative","scale":{"domain":[0,100]},"axis":{"values":[0,20,40,60,80,100],"title":"100% - Specificity%","labels":false,"tickSize":4,"titlePadding":16}},"y":{"field":"y","type":"quantitative","scale":{"domain":[0,100]},"axis":{"values":[0,20,40,60,80,100],"title":"Sensitivity%","labels":false,"tickSize":4,"titlePadding":22}},"order":[{"field":"x","type":"quantitative"},{"field":"y","type":"quantitative"}],"color":{"field":"c","type":"nominal","scale":{"domain":["d1","d2"],"range":["#000000","#ff1f1f"]},"legend":null}}},
  {"data":{"name":"roc"},"transform":[{"filter":{"field":"c","oneOf":["d1","d2"]}}],"mark":{"type":"line","strokeWidth":2.4,"strokeDash":[1.8,1.6],"strokeCap":"butt"},"encoding":{"x":{"field":"x","type":"quantitative","scale":{"domain":[0,100]},"axis":{"values":[0,20,40,60,80,100],"title":"100% - Specificity%","labels":false,"tickSize":4,"titlePadding":16}},"y":{"field":"y","type":"quantitative","scale":{"domain":[0,100]},"axis":{"values":[0,20,40,60,80,100],"title":"Sensitivity%","labels":false,"tickSize":4,"titlePadding":22}},"order":[{"field":"x","type":"quantitative"},{"field":"y","type":"quantitative"}],"color":{"field":"c","type":"nominal","scale":{"domain":["d1","d2"],"range":["#000000","#ff1f1f"]},"legend":null}}},
  {"data":{"name":"tk"},"transform":[{"filter":{"field":"a","equal":"r"}}],"mark":{"type":"text","align":"center","baseline":"alphabetic"},"encoding":{"x":{"field":"v","type":"quantitative","scale":{"domain":[0,100]},"axis":{"values":[0,20,40,60,80,100],"title":"100% - Specificity%","labels":false,"tickSize":4,"titlePadding":16}},"y":{"datum":-13.4,"type":"quantitative","scale":{"domain":[0,100]}},"text":{"field":"v","type":"nominal"}}},
  {"data":{"name":"tk"},"transform":[{"filter":{"field":"a","equal":"r"}}],"mark":{"type":"text","align":"right","baseline":"middle"},"encoding":{"x":{"datum":-2.4,"type":"quantitative","scale":{"domain":[0,100]}},"y":{"field":"v","type":"quantitative","scale":{"domain":[0,100]},"axis":{"values":[0,20,40,60,80,100],"title":"Sensitivity%","labels":false,"tickSize":4,"titlePadding":22}},"text":{"field":"v","type":"nominal"}}},
  {"data":{"values":[{}]},"mark":{"type":"text","fontSize":21,"fontWeight":"bold","align":"left","baseline":"alphabetic","color":"#000"},"encoding":{"x":{"datum":-30.9,"type":"quantitative","scale":{"domain":[0,100]}},"y":{"datum":116.4,"type":"quantitative","scale":{"domain":[0,100]}},"text":{"datum":"d"}}},
  {"data":{"values":[{}]},"mark":{"type":"text","fontSize":12.5,"align":"center","baseline":"alphabetic"},"encoding":{"x":{"datum":50,"type":"quantitative","scale":{"domain":[0,100]}},"y":{"datum":110,"type":"quantitative","scale":{"domain":[0,100]}},"text":{"datum":"Vaccinated vs Convalescent"}}}
 ]},
 {"data":{"name":"leg"},"transform":[{"filter":{"field":"p","equal":"d"}}],"layer":[
  {"mark":{"type":"rule","strokeWidth":1},"encoding":{"x":{"datum":-10.9,"type":"quantitative","scale":{"domain":[0,100]}},"x2":{"datum":-3.8},"y":{"field":"i","type":"quantitative","scale":{"domain":[0,1],"range":[175,189.5]},"axis":null},"color":{"field":"c","type":"nominal","scale":{"domain":["d1","d2"],"range":["#000000","#ff1f1f"]},"legend":null}}},
  {"mark":{"type":"point","shape":"square","size":7,"filled":true,"opacity":1},"encoding":{"x":{"datum":-7.3,"type":"quantitative","scale":{"domain":[0,100]}},"y":{"field":"i","type":"quantitative","scale":{"domain":[0,1],"range":[175,189.5]},"axis":null},"color":{"field":"c","type":"nominal","scale":{"domain":["d1","d2"],"range":["#000000","#ff1f1f"]},"legend":null}}},
  {"mark":{"type":"text","align":"left","baseline":"middle"},"encoding":{"x":{"datum":0.2,"type":"quantitative","scale":{"domain":[0,100]}},"y":{"field":"i","type":"quantitative","scale":{"domain":[0,1],"range":[175,189.5]},"axis":null},"text":{"field":"s"}}},
  {"mark":{"type":"text","align":"left","baseline":"middle"},"encoding":{"x":{"datum":52.7,"type":"quantitative","scale":{"domain":[0,100]}},"y":{"field":"i","type":"quantitative","scale":{"domain":[0,1],"range":[175,189.5]},"axis":null},"text":{"field":"auc"}}},
  {"data":{"values":[{}]},"mark":{"type":"text","align":"center","baseline":"middle"},"encoding":{"x":{"datum":75.4,"type":"quantitative","scale":{"domain":[0,100]}},"y":{"datum":-1.17,"type":"quantitative","scale":{"domain":[0,1],"range":[175,189.5]},"axis":null},"text":{"datum":"AUC (95% CI)"}}}
 ]}
]},
{"hconcat":[
{"width":110,"height":110,"resolve":{"scale":{"y":"independent"}},"layer":[
 {"layer":[
  {"data":{"values":[{}]},"mark":{"type":"rule","color":"#000","strokeWidth":1,"strokeDash":[1.5,2]},"encoding":{"x":{"datum":2.39,"type":"quantitative","scale":{"domain":[0,5]},"axis":{"values":[0,1,2,3,4,5],"title":"Log (Signal Intensity of N_Nter)","labels":false,"tickSize":2.5,"titlePadding":17}}}},
  {"data":{"values":[{}]},"mark":{"type":"rule","color":"#000","strokeWidth":1,"strokeDash":[1.5,2]},"encoding":{"y":{"datum":2.88,"type":"quantitative","scale":{"domain":[2,4]},"axis":{"values":[2,3,4],"title":"Log (Signal Intensity of NSP7)","labels":false,"tickSize":2.5,"titlePadding":7,"titleFontSize":10}}}},
  {"data":{"name":"sc"},"transform":[{"filter":{"field":"p","equal":"e"}}],"mark":{"type":"point","filled":true,"size":9,"opacity":1},"encoding":{"x":{"field":"x","type":"quantitative","scale":{"domain":[0,5]},"axis":{"values":[0,1,2,3,4,5],"title":"Log (Signal Intensity of N_Nter)","labels":false,"tickSize":2.5,"titlePadding":17}},"y":{"field":"y","type":"quantitative","scale":{"domain":[2,4]},"axis":{"values":[2,3,4],"title":"Log (Signal Intensity of NSP7)","labels":false,"tickSize":2.5,"titlePadding":7,"titleFontSize":10}},"color":{"field":"g","type":"nominal","scale":{"domain":["V","C"],"range":["#ff1f1f","#000000"]},"legend":null}}},
  {"data":{"name":"tk"},"transform":[{"filter":{"field":"a","equal":"ex"}}],"mark":{"type":"text","align":"center","baseline":"alphabetic","fontSize":10},"encoding":{"x":{"field":"v","type":"quantitative","scale":{"domain":[0,5]},"axis":{"values":[0,1,2,3,4,5],"title":"Log (Signal Intensity of N_Nter)","labels":false,"tickSize":2.5,"titlePadding":17}},"y":{"datum":1.745,"type":"quantitative","scale":{"domain":[2,4]}},"text":{"field":"v","type":"nominal"}}},
  {"data":{"name":"tk"},"transform":[{"filter":{"field":"a","equal":"sy"}}],"mark":{"type":"text","align":"right","baseline":"middle","fontSize":10},"encoding":{"x":{"datum":-0.136,"type":"quantitative","scale":{"domain":[0,5]}},"y":{"field":"v","type":"quantitative","scale":{"domain":[2,4]},"axis":{"values":[2,3,4],"title":"Log (Signal Intensity of NSP7)","labels":false,"tickSize":2.5,"titlePadding":7,"titleFontSize":10}},"text":{"field":"v","type":"nominal"}}},
  {"data":{"values":[{}]},"mark":{"type":"text","fontSize":21,"fontWeight":"bold","align":"left","baseline":"alphabetic","color":"#000"},"encoding":{"x":{"datum":-0.636,"type":"quantitative","scale":{"domain":[0,5]}},"y":{"datum":4.364,"type":"quantitative","scale":{"domain":[2,4]}},"text":{"datum":"e"}}}
 ]},
 {"data":{"name":"leg"},"transform":[{"filter":{"field":"p","equal":"e"}}],"layer":[
  {"mark":{"type":"point","filled":true,"size":9,"opacity":1},"encoding":{"x":{"datum":5.36,"type":"quantitative","scale":{"domain":[0,5]}},"y":{"field":"i","type":"quantitative","scale":{"domain":[0,1],"range":[8,24]},"axis":null},"color":{"field":"g","type":"nominal","scale":{"domain":["V","C"],"range":["#ff1f1f","#000000"]},"legend":null}}},
  {"mark":{"type":"text","align":"left","baseline":"middle","fontSize":10},"encoding":{"x":{"datum":6.0,"type":"quantitative","scale":{"domain":[0,5]}},"y":{"field":"i","type":"quantitative","scale":{"domain":[0,1],"range":[8,24]},"axis":null},"text":{"field":"s"}}}
 ]}
]},
{"width":110,"height":110,"resolve":{"scale":{"y":"independent"}},"layer":[
 {"layer":[
  {"data":{"values":[{}]},"mark":{"type":"rule","color":"#000","strokeWidth":1,"strokeDash":[1.5,2]},"encoding":{"x":{"datum":2.93,"type":"quantitative","scale":{"domain":[1,5]},"axis":{"values":[1,2,3,4,5],"title":"Log (Signal Intensity of N protein)","labels":false,"tickSize":2.5,"titlePadding":17}}}},
  {"data":{"values":[{}]},"mark":{"type":"rule","color":"#000","strokeWidth":1,"strokeDash":[1.5,2]},"encoding":{"y":{"datum":2.88,"type":"quantitative","scale":{"domain":[2,4]},"axis":{"values":[2,3,4],"title":"Log (Signal Intensity of NSP7)","labels":false,"tickSize":2.5,"titlePadding":10,"titleFontSize":10}}}},
  {"data":{"name":"sc"},"transform":[{"filter":{"field":"p","equal":"f"}}],"mark":{"type":"point","filled":true,"size":9,"opacity":1},"encoding":{"x":{"field":"x","type":"quantitative","scale":{"domain":[1,5]},"axis":{"values":[1,2,3,4,5],"title":"Log (Signal Intensity of N protein)","labels":false,"tickSize":2.5,"titlePadding":17}},"y":{"field":"y","type":"quantitative","scale":{"domain":[2,4]},"axis":{"values":[2,3,4],"title":"Log (Signal Intensity of NSP7)","labels":false,"tickSize":2.5,"titlePadding":10,"titleFontSize":10}},"color":{"field":"g","type":"nominal","scale":{"domain":["V","C"],"range":["#ff1f1f","#000000"]},"legend":null}}},
  {"data":{"name":"tk"},"transform":[{"filter":{"field":"a","equal":"fx"}}],"mark":{"type":"text","align":"center","baseline":"alphabetic","fontSize":10},"encoding":{"x":{"field":"v","type":"quantitative","scale":{"domain":[1,5]},"axis":{"values":[1,2,3,4,5],"title":"Log (Signal Intensity of N protein)","labels":false,"tickSize":2.5,"titlePadding":17}},"y":{"datum":1.745,"type":"quantitative","scale":{"domain":[2,4]}},"text":{"field":"v","type":"nominal"}}},
  {"data":{"name":"tk"},"transform":[{"filter":{"field":"a","equal":"sy"}}],"mark":{"type":"text","align":"right","baseline":"middle","fontSize":10},"encoding":{"x":{"datum":0.82,"type":"quantitative","scale":{"domain":[1,5]}},"y":{"field":"v","type":"quantitative","scale":{"domain":[2,4]},"axis":{"values":[2,3,4],"title":"Log (Signal Intensity of NSP7)","labels":false,"tickSize":2.5,"titlePadding":10,"titleFontSize":10}},"text":{"field":"v","type":"nominal"}}},
  {"data":{"values":[{}]},"mark":{"type":"text","fontSize":21,"fontWeight":"bold","align":"left","baseline":"alphabetic","color":"#000"},"encoding":{"x":{"datum":-0.564,"type":"quantitative","scale":{"domain":[1,5]}},"y":{"datum":4.364,"type":"quantitative","scale":{"domain":[2,4]}},"text":{"datum":"f"}}}
 ]},
 {"data":{"name":"leg"},"transform":[{"filter":{"field":"p","equal":"f"}}],"layer":[
  {"mark":{"type":"point","filled":true,"size":9,"opacity":1},"encoding":{"x":{"datum":5.35,"type":"quantitative","scale":{"domain":[1,5]}},"y":{"field":"i","type":"quantitative","scale":{"domain":[0,1],"range":[8,24.5]},"axis":null},"color":{"field":"g","type":"nominal","scale":{"domain":["V","C"],"range":["#ff1f1f","#000000"]},"legend":null}}},
  {"mark":{"type":"text","align":"left","baseline":"middle","fontSize":10},"encoding":{"x":{"datum":5.8,"type":"quantitative","scale":{"domain":[1,5]}},"y":{"field":"i","type":"quantitative","scale":{"domain":[0,1],"range":[8,24.5]},"axis":null},"text":{"field":"s"}}}
 ]}
]}
],"spacing":16,"resolve":{"scale":{"color":"independent"}}}
],"spacing":52,"resolve":{"scale":{"color":"independent"}}},
{"hconcat":[
{"width":165,"height":110,"resolve":{"scale":{"y":"independent"}},"layer":[
 {"layer":[
  {"data":{"values":[{}]},"mark":{"type":"rule","color":"#b0b0b0","strokeWidth":0.7},"encoding":{"x":{"datum":0,"type":"quantitative","scale":{"domain":[0,100]},"axis":{"values":[0,20,40,60,80,100],"title":"100% - Specificity%","labels":false,"tickSize":4,"titlePadding":16}},"y":{"datum":0,"type":"quantitative","scale":{"domain":[0,100]},"axis":{"values":[0,20,40,60,80,100],"title":"Sensitivity%","labels":false,"tickSize":4,"titlePadding":22}},"x2":{"datum":100},"y2":{"datum":100}}},
  {"data":{"name":"roc"},"transform":[{"filter":{"field":"c","oneOf":["g1","g2","g3"]}}],"mark":{"type":"line","strokeWidth":1},"encoding":{"x":{"field":"x","type":"quantitative","scale":{"domain":[0,100]},"axis":{"values":[0,20,40,60,80,100],"title":"100% - Specificity%","labels":false,"tickSize":4,"titlePadding":16}},"y":{"field":"y","type":"quantitative","scale":{"domain":[0,100]},"axis":{"values":[0,20,40,60,80,100],"title":"Sensitivity%","labels":false,"tickSize":4,"titlePadding":22}},"order":[{"field":"x","type":"quantitative"},{"field":"y","type":"quantitative"}],"color":{"field":"c","type":"nominal","scale":{"domain":["g1","g2","g3"],"range":["#000000","#ff1f1f","#ffa126"]},"legend":null}}},
  {"data":{"name":"roc"},"transform":[{"filter":{"field":"c","oneOf":["g1","g2","g3"]}}],"mark":{"type":"line","strokeWidth":2.4,"strokeDash":[1.8,1.6],"strokeCap":"butt"},"encoding":{"x":{"field":"x","type":"quantitative","scale":{"domain":[0,100]},"axis":{"values":[0,20,40,60,80,100],"title":"100% - Specificity%","labels":false,"tickSize":4,"titlePadding":16}},"y":{"field":"y","type":"quantitative","scale":{"domain":[0,100]},"axis":{"values":[0,20,40,60,80,100],"title":"Sensitivity%","labels":false,"tickSize":4,"titlePadding":22}},"order":[{"field":"x","type":"quantitative"},{"field":"y","type":"quantitative"}],"color":{"field":"c","type":"nominal","scale":{"domain":["g1","g2","g3"],"range":["#000000","#ff1f1f","#ffa126"]},"legend":null}}},
  {"data":{"name":"tk"},"transform":[{"filter":{"field":"a","equal":"r"}}],"mark":{"type":"text","align":"center","baseline":"alphabetic"},"encoding":{"x":{"field":"v","type":"quantitative","scale":{"domain":[0,100]},"axis":{"values":[0,20,40,60,80,100],"title":"100% - Specificity%","labels":false,"tickSize":4,"titlePadding":16}},"y":{"datum":-13.4,"type":"quantitative","scale":{"domain":[0,100]}},"text":{"field":"v","type":"nominal"}}},
  {"data":{"name":"tk"},"transform":[{"filter":{"field":"a","equal":"r"}}],"mark":{"type":"text","align":"right","baseline":"middle"},"encoding":{"x":{"datum":-2.4,"type":"quantitative","scale":{"domain":[0,100]}},"y":{"field":"v","type":"quantitative","scale":{"domain":[0,100]},"axis":{"values":[0,20,40,60,80,100],"title":"Sensitivity%","labels":false,"tickSize":4,"titlePadding":22}},"text":{"field":"v","type":"nominal"}}},
  {"data":{"values":[{}]},"mark":{"type":"text","fontSize":21,"fontWeight":"bold","align":"left","baseline":"alphabetic","color":"#000"},"encoding":{"x":{"datum":-30.9,"type":"quantitative","scale":{"domain":[0,100]}},"y":{"datum":120.9,"type":"quantitative","scale":{"domain":[0,100]}},"text":{"datum":"g"}}},
  {"data":{"values":[{}]},"mark":{"type":"text","fontSize":12.5,"align":"center","baseline":"alphabetic"},"encoding":{"x":{"datum":50,"type":"quantitative","scale":{"domain":[0,100]}},"y":{"datum":110,"type":"quantitative","scale":{"domain":[0,100]}},"text":{"datum":"Vaccinated vs Convalescent"}}}
 ]},
 {"data":{"name":"leg"},"transform":[{"filter":{"field":"p","equal":"g"}}],"layer":[
  {"mark":{"type":"rule","strokeWidth":1},"encoding":{"x":{"datum":0.2,"type":"quantitative","scale":{"domain":[0,100]}},"x2":{"datum":6.2},"y":{"field":"i","type":"quantitative","scale":{"domain":[0,1],"range":[173.6,188.3]},"axis":null},"color":{"field":"c","type":"nominal","scale":{"domain":["g1","g2","g3"],"range":["#000000","#ff1f1f","#ffa126"]},"legend":null}}},
  {"mark":{"type":"point","shape":"square","size":7,"filled":true,"opacity":1},"encoding":{"x":{"datum":3.2,"type":"quantitative","scale":{"domain":[0,100]}},"y":{"field":"i","type":"quantitative","scale":{"domain":[0,1],"range":[173.6,188.3]},"axis":null},"color":{"field":"c","type":"nominal","scale":{"domain":["g1","g2","g3"],"range":["#000000","#ff1f1f","#ffa126"]},"legend":null}}},
  {"mark":{"type":"text","align":"left","baseline":"middle"},"encoding":{"x":{"datum":11.3,"type":"quantitative","scale":{"domain":[0,100]}},"y":{"field":"i","type":"quantitative","scale":{"domain":[0,1],"range":[173.6,188.3]},"axis":null},"text":{"field":"s"}}},
  {"mark":{"type":"text","align":"left","baseline":"middle"},"encoding":{"x":{"datum":45.6,"type":"quantitative","scale":{"domain":[0,100]}},"y":{"field":"i","type":"quantitative","scale":{"domain":[0,1],"range":[173.6,188.3]},"axis":null},"text":{"field":"auc"}}},
  {"data":{"values":[{}]},"mark":{"type":"text","align":"center","baseline":"middle"},"encoding":{"x":{"datum":68.2,"type":"quantitative","scale":{"domain":[0,100]}},"y":{"datum":-1.16,"type":"quantitative","scale":{"domain":[0,1],"range":[173.6,188.3]},"axis":null},"text":{"datum":"AUC (95% CI)"}}}
 ]}
]},
{"width":165,"height":110,"resolve":{"scale":{"y":"independent"}},"layer":[
 {"layer":[
  {"data":{"values":[{}]},"mark":{"type":"rule","color":"#b0b0b0","strokeWidth":0.7},"encoding":{"x":{"datum":0,"type":"quantitative","scale":{"domain":[0,100]},"axis":{"values":[0,20,40,60,80,100],"title":"100% - Specificity%","labels":false,"tickSize":4,"titlePadding":16}},"y":{"datum":0,"type":"quantitative","scale":{"domain":[0,100]},"axis":{"values":[0,20,40,60,80,100],"title":"Sensitivity%","labels":false,"tickSize":4,"titlePadding":22}},"x2":{"datum":100},"y2":{"datum":100}}},
  {"data":{"name":"roc"},"transform":[{"filter":{"field":"c","oneOf":["h1","h2","h3","h4","h5"]}}],"mark":{"type":"line","strokeWidth":1},"encoding":{"x":{"field":"x","type":"quantitative","scale":{"domain":[0,100]},"axis":{"values":[0,20,40,60,80,100],"title":"100% - Specificity%","labels":false,"tickSize":4,"titlePadding":16}},"y":{"field":"y","type":"quantitative","scale":{"domain":[0,100]},"axis":{"values":[0,20,40,60,80,100],"title":"Sensitivity%","labels":false,"tickSize":4,"titlePadding":22}},"order":[{"field":"x","type":"quantitative"},{"field":"y","type":"quantitative"}],"color":{"field":"c","type":"nominal","scale":{"domain":["h1","h2","h3","h4","h5"],"range":["#000000","#a6a6a6","#22b522","#ff1f1f","#ffa126"]},"legend":null}}},
  {"data":{"name":"roc"},"transform":[{"filter":{"field":"c","oneOf":["h1","h2","h3","h4","h5"]}}],"mark":{"type":"line","strokeWidth":2.4,"strokeDash":[1.8,1.6],"strokeCap":"butt"},"encoding":{"x":{"field":"x","type":"quantitative","scale":{"domain":[0,100]},"axis":{"values":[0,20,40,60,80,100],"title":"100% - Specificity%","labels":false,"tickSize":4,"titlePadding":16}},"y":{"field":"y","type":"quantitative","scale":{"domain":[0,100]},"axis":{"values":[0,20,40,60,80,100],"title":"Sensitivity%","labels":false,"tickSize":4,"titlePadding":22}},"order":[{"field":"x","type":"quantitative"},{"field":"y","type":"quantitative"}],"color":{"field":"c","type":"nominal","scale":{"domain":["h1","h2","h3","h4","h5"],"range":["#000000","#a6a6a6","#22b522","#ff1f1f","#ffa126"]},"legend":null}}},
  {"data":{"name":"tk"},"transform":[{"filter":{"field":"a","equal":"r"}}],"mark":{"type":"text","align":"center","baseline":"alphabetic"},"encoding":{"x":{"field":"v","type":"quantitative","scale":{"domain":[0,100]},"axis":{"values":[0,20,40,60,80,100],"title":"100% - Specificity%","labels":false,"tickSize":4,"titlePadding":16}},"y":{"datum":-13.4,"type":"quantitative","scale":{"domain":[0,100]}},"text":{"field":"v","type":"nominal"}}},
  {"data":{"name":"tk"},"transform":[{"filter":{"field":"a","equal":"r"}}],"mark":{"type":"text","align":"right","baseline":"middle"},"encoding":{"x":{"datum":-2.4,"type":"quantitative","scale":{"domain":[0,100]}},"y":{"field":"v","type":"quantitative","scale":{"domain":[0,100]},"axis":{"values":[0,20,40,60,80,100],"title":"Sensitivity%","labels":false,"tickSize":4,"titlePadding":22}},"text":{"field":"v","type":"nominal"}}},
  {"data":{"values":[{}]},"mark":{"type":"text","fontSize":21,"fontWeight":"bold","align":"left","baseline":"alphabetic","color":"#000"},"encoding":{"x":{"datum":-30.3,"type":"quantitative","scale":{"domain":[0,100]}},"y":{"datum":119.1,"type":"quantitative","scale":{"domain":[0,100]}},"text":{"datum":"h"}}},
  {"data":{"values":[{}]},"mark":{"type":"text","fontSize":12.5,"align":"center","baseline":"alphabetic"},"encoding":{"x":{"datum":50,"type":"quantitative","scale":{"domain":[0,100]}},"y":{"datum":109,"type":"quantitative","scale":{"domain":[0,100]}},"text":{"datum":"Vaccinated vs Convalescent"}}}
 ]},
 {"data":{"name":"leg"},"transform":[{"filter":{"field":"p","equal":"h"}}],"layer":[
  {"mark":{"type":"rule","strokeWidth":1},"encoding":{"x":{"datum":0.2,"type":"quantitative","scale":{"domain":[0,100]}},"x2":{"datum":7.7},"y":{"field":"i","type":"quantitative","scale":{"domain":[0,1],"range":[174,189.15]},"axis":null},"color":{"field":"c","type":"nominal","scale":{"domain":["h1","h2","h3","h4","h5"],"range":["#000000","#a6a6a6","#22b522","#ff1f1f","#ffa126"]},"legend":null}}},
  {"mark":{"type":"point","shape":"square","size":7,"filled":true,"opacity":1},"encoding":{"x":{"datum":4,"type":"quantitative","scale":{"domain":[0,100]}},"y":{"field":"i","type":"quantitative","scale":{"domain":[0,1],"range":[174,189.15]},"axis":null},"color":{"field":"c","type":"nominal","scale":{"domain":["h1","h2","h3","h4","h5"],"range":["#000000","#a6a6a6","#22b522","#ff1f1f","#ffa126"]},"legend":null}}},
  {"mark":{"type":"text","align":"left","baseline":"middle"},"encoding":{"x":{"datum":11.3,"type":"quantitative","scale":{"domain":[0,100]}},"y":{"field":"i","type":"quantitative","scale":{"domain":[0,1],"range":[174,189.15]},"axis":null},"text":{"field":"s"}}},
  {"mark":{"type":"text","align":"left","baseline":"middle"},"encoding":{"x":{"datum":46.2,"type":"quantitative","scale":{"domain":[0,100]}},"y":{"field":"i","type":"quantitative","scale":{"domain":[0,1],"range":[174,189.15]},"axis":null},"text":{"field":"auc"}}},
  {"data":{"values":[{}]},"mark":{"type":"text","align":"center","baseline":"middle"},"encoding":{"x":{"datum":68.9,"type":"quantitative","scale":{"domain":[0,100]}},"y":{"datum":-1.02,"type":"quantitative","scale":{"domain":[0,1],"range":[174,189.15]},"axis":null},"text":{"datum":"AUC (95% CI)"}}}
 ]}
]}
],"spacing":56,"resolve":{"scale":{"color":"independent"}}},
{"hconcat":[
{"width":165,"height":110,"resolve":{"scale":{"y":"independent"}},"layer":[
 {"layer":[
  {"data":{"values":[{}]},"mark":{"type":"rule","color":"#b0b0b0","strokeWidth":0.7},"encoding":{"x":{"datum":0,"type":"quantitative","scale":{"domain":[0,100]},"axis":{"values":[0,20,40,60,80,100],"title":"100% - Specificity%","labels":false,"tickSize":4,"titlePadding":16}},"y":{"datum":0,"type":"quantitative","scale":{"domain":[0,100]},"axis":{"values":[0,20,40,60,80,100],"title":"Sensitivity%","labels":false,"tickSize":4,"titlePadding":22}},"x2":{"datum":100},"y2":{"datum":100}}},
  {"data":{"name":"roc"},"transform":[{"filter":{"field":"c","oneOf":["i1"]}}],"mark":{"type":"line","strokeWidth":1},"encoding":{"x":{"field":"x","type":"quantitative","scale":{"domain":[0,100]},"axis":{"values":[0,20,40,60,80,100],"title":"100% - Specificity%","labels":false,"tickSize":4,"titlePadding":16}},"y":{"field":"y","type":"quantitative","scale":{"domain":[0,100]},"axis":{"values":[0,20,40,60,80,100],"title":"Sensitivity%","labels":false,"tickSize":4,"titlePadding":22}},"order":[{"field":"x","type":"quantitative"},{"field":"y","type":"quantitative"}],"color":{"field":"c","type":"nominal","scale":{"domain":["i1"],"range":["#000000"]},"legend":null}}},
  {"data":{"name":"roc"},"transform":[{"filter":{"field":"c","oneOf":["i1"]}}],"mark":{"type":"line","strokeWidth":2.4,"strokeDash":[1.8,1.6],"strokeCap":"butt"},"encoding":{"x":{"field":"x","type":"quantitative","scale":{"domain":[0,100]},"axis":{"values":[0,20,40,60,80,100],"title":"100% - Specificity%","labels":false,"tickSize":4,"titlePadding":16}},"y":{"field":"y","type":"quantitative","scale":{"domain":[0,100]},"axis":{"values":[0,20,40,60,80,100],"title":"Sensitivity%","labels":false,"tickSize":4,"titlePadding":22}},"order":[{"field":"x","type":"quantitative"},{"field":"y","type":"quantitative"}],"color":{"field":"c","type":"nominal","scale":{"domain":["i1"],"range":["#000000"]},"legend":null}}},
  {"data":{"name":"tk"},"transform":[{"filter":{"field":"a","equal":"r"}}],"mark":{"type":"text","align":"center","baseline":"alphabetic"},"encoding":{"x":{"field":"v","type":"quantitative","scale":{"domain":[0,100]},"axis":{"values":[0,20,40,60,80,100],"title":"100% - Specificity%","labels":false,"tickSize":4,"titlePadding":16}},"y":{"datum":-13.4,"type":"quantitative","scale":{"domain":[0,100]}},"text":{"field":"v","type":"nominal"}}},
  {"data":{"name":"tk"},"transform":[{"filter":{"field":"a","equal":"r"}}],"mark":{"type":"text","align":"right","baseline":"middle"},"encoding":{"x":{"datum":-2.4,"type":"quantitative","scale":{"domain":[0,100]}},"y":{"field":"v","type":"quantitative","scale":{"domain":[0,100]},"axis":{"values":[0,20,40,60,80,100],"title":"Sensitivity%","labels":false,"tickSize":4,"titlePadding":22}},"text":{"field":"v","type":"nominal"}}},
  {"data":{"values":[{}]},"mark":{"type":"text","fontSize":21,"fontWeight":"bold","align":"left","baseline":"alphabetic","color":"#000"},"encoding":{"x":{"datum":-27.6,"type":"quantitative","scale":{"domain":[0,100]}},"y":{"datum":120.9,"type":"quantitative","scale":{"domain":[0,100]}},"text":{"datum":"i"}}},
  {"data":{"values":[{}]},"mark":{"type":"text","fontSize":12.5,"align":"center","baseline":"alphabetic"},"encoding":{"x":{"datum":50,"type":"quantitative","scale":{"domain":[0,100]}},"y":{"datum":110,"type":"quantitative","scale":{"domain":[0,100]}},"text":{"datum":"Vaccinated vs Convalescent"}}}
 ]},
 {"data":{"name":"leg"},"transform":[{"filter":{"field":"p","equal":"i"}}],"layer":[
  {"mark":{"type":"rule","strokeWidth":1},"encoding":{"x":{"datum":-5.3,"type":"quantitative","scale":{"domain":[0,100]}},"x2":{"datum":1.2},"y":{"field":"i","type":"quantitative","scale":{"domain":[0,1],"range":[171,186]},"axis":null},"color":{"field":"c","type":"nominal","scale":{"domain":["i1"],"range":["#000000"]},"legend":null}}},
  {"mark":{"type":"point","shape":"square","size":7,"filled":true,"opacity":1},"encoding":{"x":{"datum":-2,"type":"quantitative","scale":{"domain":[0,100]}},"y":{"field":"i","type":"quantitative","scale":{"domain":[0,1],"range":[171,186]},"axis":null},"color":{"field":"c","type":"nominal","scale":{"domain":["i1"],"range":["#000000"]},"legend":null}}},
  {"mark":{"type":"text","align":"left","baseline":"middle"},"encoding":{"x":{"datum":5.6,"type":"quantitative","scale":{"domain":[0,100]}},"y":{"field":"i","type":"quantitative","scale":{"domain":[0,1],"range":[171,186]},"axis":null},"text":{"field":"s"}}},
  {"mark":{"type":"text","align":"left","baseline":"middle"},"encoding":{"x":{"datum":48.7,"type":"quantitative","scale":{"domain":[0,100]}},"y":{"field":"i","type":"quantitative","scale":{"domain":[0,1],"range":[171,186]},"axis":null},"text":{"field":"auc"}}},
  {"data":{"values":[{}]},"mark":{"type":"text","align":"center","baseline":"middle"},"encoding":{"x":{"datum":71.7,"type":"quantitative","scale":{"domain":[0,100]}},"y":{"datum":-0.89,"type":"quantitative","scale":{"domain":[0,1],"range":[171,186]},"axis":null},"text":{"datum":"AUC (95% CI)"}}}
 ]}
]},
{"width":110,"height":110,"resolve":{"scale":{"y":"independent"}},"layer":[
 {"layer":[
  {"data":{"values":[{}]},"mark":{"type":"rule","color":"#000","strokeWidth":1,"strokeDash":[1.5,2]},"encoding":{"x":{"datum":2.73,"type":"quantitative","scale":{"domain":[1,4]},"axis":{"values":[1,2,3,4],"title":"Log (Signal Intensity of S1-24)","labels":false,"tickSize":2.5,"titlePadding":17}}}},
  {"data":{"values":[{}]},"mark":{"type":"rule","color":"#000","strokeWidth":1,"strokeDash":[1.5,2]},"encoding":{"y":{"datum":1.91,"type":"quantitative","scale":{"domain":[-1,5]},"axis":{"values":[-1,0,1,2,3,4,5],"title":"Log (Signal Intensity of S2-78)","labels":false,"tickSize":2.5,"titlePadding":16,"titleFontSize":10}}}},
  {"data":{"name":"sc"},"transform":[{"filter":{"field":"p","equal":"j"}}],"mark":{"type":"point","filled":true,"size":9,"opacity":1},"encoding":{"x":{"field":"x","type":"quantitative","scale":{"domain":[1,4]},"axis":{"values":[1,2,3,4],"title":"Log (Signal Intensity of S1-24)","labels":false,"tickSize":2.5,"titlePadding":17}},"y":{"field":"y","type":"quantitative","scale":{"domain":[-1,5]},"axis":{"values":[-1,0,1,2,3,4,5],"title":"Log (Signal Intensity of S2-78)","labels":false,"tickSize":2.5,"titlePadding":16,"titleFontSize":10}},"color":{"field":"g","type":"nominal","scale":{"domain":["V","C"],"range":["#ff1f1f","#000000"]},"legend":null}}},
  {"data":{"name":"tk"},"transform":[{"filter":{"field":"a","equal":"jx"}}],"mark":{"type":"text","align":"center","baseline":"alphabetic","fontSize":10},"encoding":{"x":{"field":"v","type":"quantitative","scale":{"domain":[1,4]},"axis":{"values":[1,2,3,4],"title":"Log (Signal Intensity of S1-24)","labels":false,"tickSize":2.5,"titlePadding":17}},"y":{"datum":-1.764,"type":"quantitative","scale":{"domain":[-1,5]}},"text":{"field":"v","type":"nominal"}}},
  {"data":{"name":"tk"},"transform":[{"filter":{"field":"a","equal":"jy"}}],"mark":{"type":"text","align":"right","baseline":"middle","fontSize":10},"encoding":{"x":{"datum":0.883,"type":"quantitative","scale":{"domain":[1,4]}},"y":{"field":"v","type":"quantitative","scale":{"domain":[-1,5]},"axis":{"values":[-1,0,1,2,3,4,5],"title":"Log (Signal Intensity of S2-78)","labels":false,"tickSize":2.5,"titlePadding":16,"titleFontSize":10}},"text":{"field":"v","type":"nominal"}}},
  {"data":{"values":[{}]},"mark":{"type":"text","fontSize":21,"fontWeight":"bold","align":"left","baseline":"alphabetic","color":"#000"},"encoding":{"x":{"datum":-0.282,"type":"quantitative","scale":{"domain":[1,4]}},"y":{"datum":6.255,"type":"quantitative","scale":{"domain":[-1,5]}},"text":{"datum":"j"}}}
 ]},
 {"data":{"name":"leg"},"transform":[{"filter":{"field":"p","equal":"j"}}],"layer":[
  {"mark":{"type":"point","filled":true,"size":9,"opacity":1},"encoding":{"x":{"datum":4.36,"type":"quantitative","scale":{"domain":[1,4]}},"y":{"field":"i","type":"quantitative","scale":{"domain":[0,1],"range":[7.3,22.3]},"axis":null},"color":{"field":"g","type":"nominal","scale":{"domain":["V","C"],"range":["#ff1f1f","#000000"]},"legend":null}}},
  {"mark":{"type":"text","align":"left","baseline":"middle","fontSize":10},"encoding":{"x":{"datum":4.71,"type":"quantitative","scale":{"domain":[1,4]}},"y":{"field":"i","type":"quantitative","scale":{"domain":[0,1],"range":[7.3,22.3]},"axis":null},"text":{"field":"s"}}}
 ]}
]}
],"spacing":59,"resolve":{"scale":{"color":"independent"}}}
]
}
